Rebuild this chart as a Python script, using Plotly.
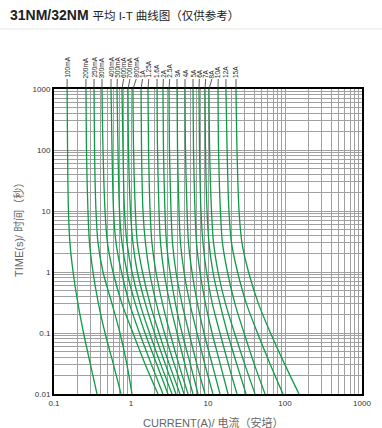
import math
import plotly.graph_objects as go

# ---- data ----
ratings = ["100mA", "200mA", "250mA", "300mA", "400mA", "500mA", "600mA", "700mA",
           "800mA", "1A", "1.25A", "1.6A", "2A", "2.5A", "3A", "4A", "5A", "6A",
           "7A", "8A", "10A", "12A", "15A"]

times = [1000, 100, 10, 3, 1, 0.3, 0.1, 0.03, 0.01]

curve_100mA = [0.148, 0.150, 0.154, 0.161, 0.177, 0.205, 0.242, 0.298, 0.362]
curve_200mA = [0.260, 0.264, 0.276, 0.289, 0.321, 0.378, 0.460, 0.593, 0.742]
curve_250mA = [0.331, 0.336, 0.351, 0.373, 0.433, 0.567, 0.720, 0.887, 1.03]
curve_300mA = [0.420, 0.433, 0.460, 0.495, 0.584, 0.764, 1.06, 1.54, 2.24]
curve_400mA = [0.550, 0.567, 0.593, 0.639, 0.753, 0.956, 1.29, 1.85, 2.60]
curve_500mA = [0.658, 0.678, 0.709, 0.764, 0.887, 1.14, 1.52, 2.18, 3.02]
curve_600mA = [0.764, 0.787, 0.823, 0.887, 1.03, 1.31, 1.74, 2.45, 3.41]
curve_700mA = [0.914, 0.928, 0.985, 1.06, 1.21, 1.54, 2.02, 2.81, 3.84]
curve_800mA = [1.06, 1.08, 1.14, 1.21, 1.41, 1.77, 2.31, 3.16, 4.33]
curve_1A = [1.35, 1.37, 1.43, 1.54, 1.74, 2.14, 2.72, 3.67, 4.88]
curve_1_25A = [1.66, 1.69, 1.77, 1.87, 2.11, 2.57, 3.21, 4.20, 5.50]
curve_1_6A = [2.18, 2.21, 2.31, 2.42, 2.68, 3.21, 3.96, 5.03, 6.39]
curve_2A = [2.60, 2.64, 2.76, 2.89, 3.21, 3.78, 4.60, 5.93, 7.42]
curve_2_5A = [3.12, 3.16, 3.31, 3.46, 3.84, 4.60, 5.67, 7.20, 9.14]
curve_3A = [3.96, 4.02, 4.20, 4.39, 4.88, 5.84, 7.20, 9.14, 11.6]
curve_4A = [5.03, 5.10, 5.34, 5.58, 6.20, 7.31, 8.87, 11.4, 14.3]
curve_5A = [6.39, 6.48, 6.78, 7.09, 7.87, 9.28, 11.3, 14.5, 18.2]
curve_6A = [7.64, 7.76, 8.11, 8.61, 9.56, 11.4, 14.3, 18.5, 23.8]
curve_7A = [9.14, 9.28, 9.71, 10.3, 11.6, 14.3, 17.9, 23.8, 31.2]
curve_8A = [10.3, 10.5, 11.1, 11.8, 13.5, 16.9, 22.1, 30.2, 40.8]
curve_10A = [13.5, 13.7, 14.5, 15.4, 17.9, 22.4, 29.4, 40.2, 55.0]
curve_12A = [17.1, 17.7, 18.7, 20.2, 24.2, 31.6, 43.9, 64.8, 94.2]
curve_15A = [23.1, 23.8, 25.3, 27.6, 33.6, 45.3, 64.8, 100, 152]

curves = [curve_100mA, curve_200mA, curve_250mA, curve_300mA, curve_400mA,
          curve_500mA, curve_600mA, curve_700mA, curve_800mA, curve_1A,
          curve_1_25A, curve_1_6A, curve_2A, curve_2_5A, curve_3A, curve_4A,
          curve_5A, curve_6A, curve_7A, curve_8A, curve_10A, curve_12A, curve_15A]

x_tick_major = [0.1, 1, 10, 100, 1000]
x_tick_text = ["0.1", "1", "10", "100", "1000"]
y_tick_major = [0.01, 0.1, 1, 10, 100, 1000]
y_tick_text = ["0.01", "0.1", "1", "10", "100", "1000"]


# grid values (1..9 in each decade)
def decade_grid(lo_exp, hi_exp):
    vals = []
    for e in range(lo_exp, hi_exp):
        for m in range(1, 10):
            vals.append(round(m * 10 ** e, 6))
    vals.append(10 ** hi_exp)
    return vals


x_grid = decade_grid(-1, 3)
y_grid = decade_grid(-2, 3)
x_text = [x_tick_text[x_tick_major.index(v)] if v in x_tick_major else "" for v in x_grid]
y_text = [y_tick_text[y_tick_major.index(v)] if v in y_tick_major else "" for v in y_grid]

FONT = "Arial, Liberation Sans, Noto Sans CJK SC, sans-serif"
GREEN = "#119a48"

fig = go.Figure()
for name, cur in zip(ratings, curves):
    fig.add_trace(go.Scatter(
        x=cur, y=times, mode="lines", name=name,
        line=dict(color=GREEN, width=1.3, shape="spline", smoothing=0.8),
        hoverinfo="name", showlegend=False))

PLOT_H = 305.0
PLOT_W = 308.0
label_gap = 10.0 / PLOT_H  # label bottom above plot top (paper units)

# spread labels a little so neighbours don't overlap
min_sep = 6.3 / 77.0
label_pos = []
for cur in curves:
    lx = math.log10(cur[0])
    if label_pos and lx - label_pos[-1] < min_sep:
        lx = label_pos[-1] + min_sep
    label_pos.append(lx)

annotations = []
shapes = []
for name, cur, lx in zip(ratings, curves, label_pos):
    annotations.append(dict(
        x=lx, xref="x", y=1 + label_gap, yref="paper", text=name,
        textangle=-90, showarrow=False, xanchor="center", yanchor="bottom",
        font=dict(size=6.5, color="#222", family="Liberation Sans, Arial, sans-serif"),
        borderpad=0))
    shapes.append(dict(
        type="line", xref="x", yref="paper", x0=10 ** lx, y0=1 + label_gap,
        x1=cur[0], y1=1.0, line=dict(color="#333", width=0.8)))

# axis titles
annotations.append(dict(
    text="CURRENT(A)/ 电流（安培）", xref="paper", yref="paper",
    x=(214 - 54) / PLOT_W, y=(394 - 422) / PLOT_H, showarrow=False,
    xanchor="center", yanchor="middle", font=dict(size=11, color="#666", family=FONT)))
annotations.append(dict(
    text="TIME(s)/ 时间（秒）", xref="paper", yref="paper",
    x=(18 - 54) / PLOT_W, y=(394 - 227) / PLOT_H, showarrow=False, textangle=-90,
    xanchor="center", yanchor="middle", font=dict(size=11, color="#666", family=FONT)))

# thin separator under the title
shapes.append(dict(type="line", xref="paper", yref="paper",
                   x0=-54 / PLOT_W, x1=(382 - 54) / PLOT_W,
                   y0=(394 - 29) / PLOT_H, y1=(394 - 29) / PLOT_H,
                   line=dict(color="#e6e6e6", width=1)))

axis_common = dict(
    type="log", showgrid=True, gridcolor="#a0a0a0", gridwidth=1,
    showline=True, mirror=True, linecolor="black", linewidth=2,
    ticks="", zeroline=False, tickfont=dict(size=8, color="#333", family=FONT),
    tickmode="array")

fig.update_layout(
    width=382, height=428,
    margin=dict(l=54, r=20, t=89, b=34),
    paper_bgcolor="white", plot_bgcolor="white",
    title=dict(
        text="<b>31NM/32NM</b> <span style='font-size:11.5px'>平均 I-T 曲线图（仅供参考）</span>",
        x=10 / 382.0, y=1 - 15 / 428.0, xref="container", yref="container",
        xanchor="left", yanchor="middle",
        font=dict(size=14, color="#222", family=FONT)),
    xaxis=dict(axis_common, range=[-1, 3], tickvals=x_grid, ticktext=x_text),
    yaxis=dict(axis_common, range=[-2, 3], tickvals=y_grid, ticktext=y_text),
    annotations=annotations, shapes=shapes,
)

fig.write_html("out.html", config={"displayModeBar": False},
               post_script="document.body.style.margin='0';document.body.style.overflow='hidden';")
